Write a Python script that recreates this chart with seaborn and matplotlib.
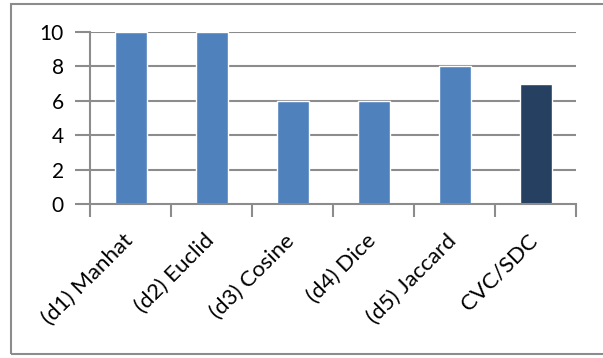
import matplotlib
matplotlib.use("Agg")
import matplotlib.pyplot as plt
import matplotlib.transforms as mtransforms
import seaborn as sns
import pandas as pd
from matplotlib.patches import Rectangle

# Dados
categorias = ["(d1) Manhat", "(d2) Euclid", "(d3) Cosine", "(d4) Dice", "(d5) Jaccard", "CVC/SDC"]
valores = [10, 10, 6, 6, 8, 7]
cores = ["#4F81BD", "#4F81BD", "#4F81BD", "#4F81BD", "#4F81BD", "#254061"]
yticks = [0, 2, 4, 6, 8, 10]

sns.set_theme(style="white")
plt.rcParams['font.family'] = ['Lato', 'DejaVu Sans']

df = pd.DataFrame({"cat": categorias, "val": valores})

fig = plt.figure(figsize=(6.03, 3.58), dpi=100)
ax = fig.add_axes([0.1493, 0.4302, 0.806, 0.4804])

sns.barplot(data=df, x="cat", y="val", hue="cat", palette=cores, legend=False,
            width=0.395, saturation=1, ax=ax)

ax.set_ylim(0, 10)
ax.set_xlim(-0.5, len(categorias) - 0.5)
ax.set_yticks(yticks)
ax.set_yticklabels([str(t) for t in yticks], fontsize=15, color="black")
for t in yticks[1:]:
    ax.axhline(t, color="#8C8C8C", lw=1.5, zorder=0)

# ticks do eixo x nas fronteiras das categorias
ax.set_xticks([i - 0.5 for i in range(len(categorias) + 1)], minor=True)
ax.set_xticks(range(len(categorias)))
ax.set_xticklabels(categorias, rotation=45, ha="right", rotation_mode="anchor",
                   fontsize=16, color="black")
ax.tick_params(axis="x", which="major", length=0, pad=19)
ax.tick_params(axis="x", which="minor", length=9, width=1.5, color="#8C8C8C", direction="out", bottom=True)
ax.tick_params(axis="y", length=11, width=1.5, color="#8C8C8C", direction="out", left=True, pad=8)

# desloca os rótulos um pouco para a esquerda
desloc = mtransforms.ScaledTranslation(-8 / 100, 0, fig.dpi_scale_trans)
for lbl in ax.get_xticklabels():
    lbl.set_transform(lbl.get_transform() + desloc)

ax.set_xlabel("")
ax.set_ylabel("")
for s in ["top", "right"]:
    ax.spines[s].set_visible(False)
for s in ["left", "bottom"]:
    ax.spines[s].set_color("#8C8C8C")
    ax.spines[s].set_linewidth(1.5)

# moldura externa do gráfico
fig.patches.append(Rectangle((10.5 / 603, 4 / 358), 600 / 603, 350 / 358, transform=fig.transFigure,
                             fill=False, edgecolor="#8C8C8C", lw=1.5))

fig.savefig("out.png", dpi=100)
